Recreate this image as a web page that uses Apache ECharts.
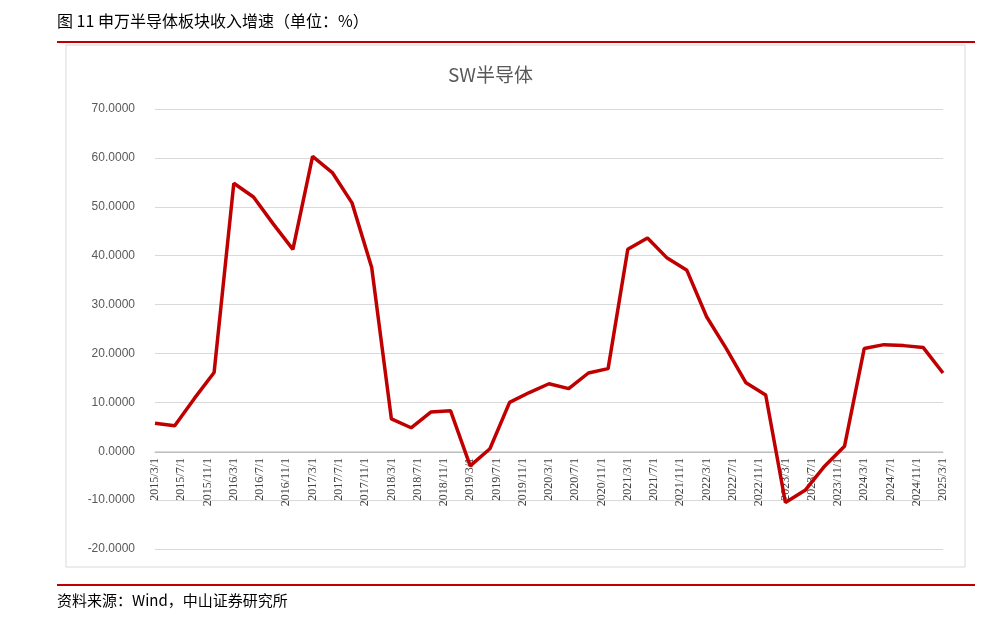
<!DOCTYPE html><html><head><meta charset="utf-8">
<script src="https://cdn.jsdelivr.net/npm/echarts@6/dist/echarts.min.js"></script>
<style>body{margin:0;background:#fff}#c{width:981px;height:617px}</style></head><body><div id="c"></div>
<script>
const startYear = 2015, startMonth = 3;
const values = [5.7,5.2,10.8,16.1,54.8,52.0,46.5,41.3,60.3,57.0,50.8,37.6,6.6,4.8,8.0,8.3,-3.0,0.5,10.0,12.0,13.8,12.8,16.0,16.9,41.3,43.6,39.5,37.0,27.5,21.0,14.0,11.5,-10.5,-8.0,-3.0,1.0,21.0,21.8,21.6,21.2,16.0];
const yTicks = [-20,-10,0,10,20,30,40,50,60,70];
function monthLabel(m){const t=startMonth-1+m;return (startYear+Math.floor(t/12))+'/'+(t%12+1)+'/1';}
const data = values.map((v,i)=>[i*3,v]);
const ch = echarts.init(document.getElementById('c'));
ch.setOption({
  animation:false,
  title:{text:'SW半导体',left:'center',top:60,textStyle:{fontSize:19,fontWeight:'normal',color:'#595959',fontFamily:'Noto Sans CJK SC'}},
  grid:{left:155,right:38,top:109,bottom:68},
  xAxis:{type:'value',min:0,max:120,interval:4,offset:-97,
    axisLine:{onZero:false,lineStyle:{color:'#bfbfbf'}},axisTick:{show:false},splitLine:{show:false},
    axisLabel:{rotate:90,color:'#404040',fontSize:12,margin:6,fontFamily:'Liberation Serif',formatter:v=>monthLabel(v)}},
  yAxis:{type:'value',min:yTicks[0],max:yTicks[yTicks.length-1],interval:10,
    axisLine:{show:false},axisTick:{show:false},
    splitLine:{lineStyle:{color:'#d9d9d9'}},
    axisLabel:{color:'#595959',fontSize:12,margin:20,fontFamily:'Liberation Sans',formatter:v=>v.toFixed(4)}},
  series:[{type:'line',data:data,symbol:'none',lineStyle:{color:'#c00000',width:3.5}}],
  graphic:[
    {type:'text',left:57,top:13,style:{text:'图 11 申万半导体板块收入增速（单位：%）',font:'16px "Noto Sans CJK SC"',fill:'#000'}},
    {type:'rect',shape:{x:57,y:41,width:918,height:2},style:{fill:'#c00000'}},
    {type:'rect',shape:{x:66,y:45,width:899,height:522},style:{fill:'none',stroke:'#d9d9d9',lineWidth:1}},
    {type:'rect',shape:{x:57,y:584,width:918,height:2},style:{fill:'#c00000'}},
    {type:'text',left:57,top:593,style:{text:'资料来源：Wind，中山证券研究所',font:'15px "Noto Sans CJK SC"',fill:'#000'}}
  ]
});
</script></body></html>
